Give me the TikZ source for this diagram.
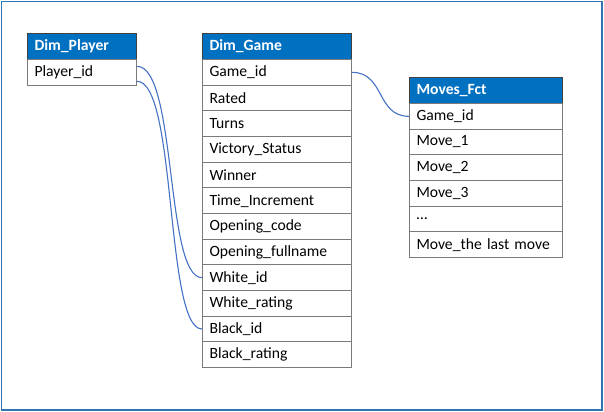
\documentclass[tikz,border=0pt]{standalone}
\usepackage{fontspec}
\setmainfont{Carlito}
\definecolor{hdrblue}{HTML}{0070C0}
\definecolor{framecol}{HTML}{2E75B6}
\definecolor{conncol}{HTML}{4472C4}
\definecolor{rowline}{HTML}{7A7A7A}
\begin{document}
\begin{tikzpicture}[x=1bp,y=-1bp,
  cell/.style={draw=rowline, line width=1bp, anchor=north west, inner xsep=7bp, inner ysep=0pt,
    minimum height=25.67bp, align=left, font=\fontsize{15.7}{18}\selectfont},
  hdr/.style={cell, draw=black!75, fill=hdrblue, text=white, font=\fontsize{15.7}{18}\selectfont\bfseries},
  conn/.style={draw=conncol, line width=1.1bp}]
\useasboundingbox (0,0) rectangle (604,411);
\draw[framecol, line width=1.5bp] (1.5,1.5) rectangle (602,410);
% Dim_Player
\node[hdr, text width=95bp] (ph) at (27,33) {Dim\_Player};
\node[cell, text width=95bp] (pid) at (27,59) {Player\_id};
% Dim_Game
\node[hdr, text width=135bp] (gh) at (202,33) {Dim\_Game};
\node[cell, text width=135bp] (gid) at (202,59) {Game\_id};
\node[cell, text width=135bp] (g2) at (202,84.67) {Rated};
\node[cell, text width=135bp] (g3) at (202,110.33) {Turns};
\node[cell, text width=135bp] (g4) at (202,136) {Victory\_Status};
\node[cell, text width=135bp] (g5) at (202,161.67) {Winner};
\node[cell, text width=135bp] (g6) at (202,187.33) {Time\_Increment};
\node[cell, text width=135bp] (g7) at (202,213) {Opening\_code};
\node[cell, text width=135bp] (g8) at (202,238.67) {Opening\_fullname};
\node[cell, text width=135bp] (wid) at (202,264.33) {White\_id};
\node[cell, text width=135bp] (g10) at (202,290) {White\_rating};
\node[cell, text width=135bp] (bid) at (202,315.67) {Black\_id};
\node[cell, text width=135bp] (g12) at (202,341.33) {Black\_rating};
% Moves_Fct
\node[hdr, text width=139bp] (mh) at (409,77) {Moves\_Fct};
\node[cell, text width=139bp] (mgid) at (409,103) {Game\_id};
\node[cell, text width=139bp] (m1) at (409,128.67) {Move\_1};
\node[cell, text width=139bp] (m2) at (409,154.33) {Move\_2};
\node[cell, text width=139bp] (m3) at (409,180) {Move\_3};
\node[cell, text width=139bp] (m4) at (409,205.67) {…};
\node[cell, text width=139bp] (m5) at (409,231.33) {Move\_the last move};
% connectors
\draw[conn] ([yshift=6bp]pid.east) .. controls +(40,0) and +(-37,0) .. (wid.west);
\draw[conn] ([yshift=-9bp]pid.east) .. controls +(40,0) and +(-37,0) .. (bid.west);
\draw[conn] (gid.east) .. controls +(33,0) and +(-33,0) .. (mgid.west);
\end{tikzpicture}
\end{document}
